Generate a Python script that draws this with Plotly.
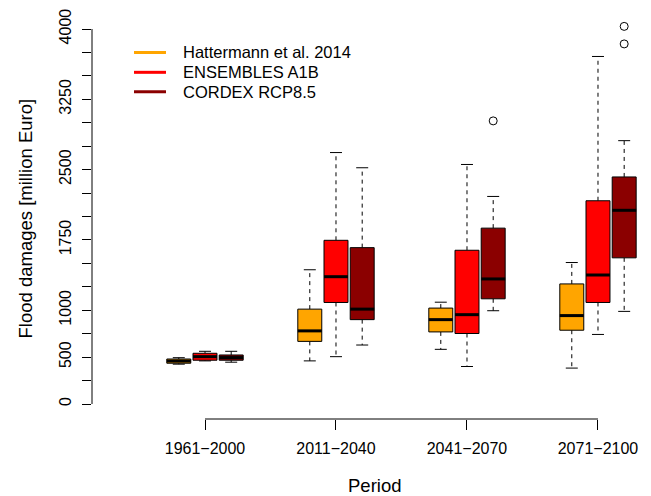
import plotly.graph_objects as go

# ---------------- data ----------------
periods = ["1961−2000", "2011−2040", "2041−2070", "2071−2100"]
series_names = ["Hattermann et al. 2014", "ENSEMBLES A1B", "CORDEX RCP8.5"]
series_colors = ["#FFA500", "#FF0000", "#8B0000"]

hat_low = [425, 460, 583, 383]
hat_q1 = [435, 668, 769, 787]
hat_med = [458, 780, 900, 943]
hat_q3 = [480, 1012, 1023, 1281]
hat_high = [494, 1432, 1086, 1509]

ens_low = [460, 505, 400, 742]
ens_q1 = [467, 1083, 752, 1083]
ens_med = [505, 1358, 953, 1376]
ens_q3 = [541, 1746, 1640, 2168]
ens_high = [562, 2682, 2555, 3707]

cor_low = [446, 629, 995, 988]
cor_q1 = [467, 900, 1122, 1559]
cor_med = [495, 1012, 1334, 2066]
cor_q3 = [523, 1668, 1876, 2422]
cor_high = [562, 2520, 2214, 2809]

cor_out_period = ["2041−2070", "2071−2100", "2071−2100"]
cor_out_values = [3020, 4028, 3841]

y_tick_values = list(range(0, 4001, 250))
y_tick_labelled = [0, 500, 1000, 1750, 2500, 3250, 4000]

# ---------------- figure ----------------
FONT = "Liberation Sans, Arial, Helvetica, sans-serif"
stats = [
    (hat_low, hat_q1, hat_med, hat_q3, hat_high),
    (ens_low, ens_q1, ens_med, ens_q3, ens_high),
    (cor_low, cor_q1, cor_med, cor_q3, cor_high),
]
offsets = [-0.2, 0.0, 0.2]
half_w = 0.0915
cap_w = half_w / 2

fig = go.Figure()

for s, (low, q1, med, q3, high) in enumerate(stats):
    wx, wy, cx, cy, bx, by, mx, my = [], [], [], [], [], [], [], []
    for i in range(len(periods)):
        xc = i + 1 + offsets[s]
        # whiskers
        wx += [xc, xc, None, xc, xc, None]
        wy += [q3[i], high[i], None, q1[i], low[i], None]
        # staples
        cx += [xc - cap_w, xc + cap_w, None, xc - cap_w, xc + cap_w, None]
        cy += [high[i], high[i], None, low[i], low[i], None]
        # box
        bx += [xc - half_w, xc + half_w, xc + half_w, xc - half_w, xc - half_w, None]
        by += [q1[i], q1[i], q3[i], q3[i], q1[i], None]
        # median
        mx += [xc - half_w, xc + half_w, None]
        my += [med[i], med[i], None]
    fig.add_trace(go.Scatter(x=wx, y=wy, mode="lines", showlegend=False, hoverinfo="skip",
                             line=dict(color="black", width=1, dash="4px,4px")))
    fig.add_trace(go.Scatter(x=cx, y=cy, mode="lines", showlegend=False, hoverinfo="skip",
                             line=dict(color="black", width=1)))
    fig.add_trace(go.Scatter(x=bx, y=by, mode="lines", fill="toself",
                             fillcolor=series_colors[s], showlegend=False, hoverinfo="skip",
                             line=dict(color="black", width=1)))
    fig.add_trace(go.Scatter(x=mx, y=my, mode="lines", showlegend=False, hoverinfo="skip",
                             line=dict(color="black", width=3)))

out_x = [periods.index(p) + 1 + offsets[2] for p in cor_out_period]
fig.add_trace(go.Scatter(x=out_x, y=cor_out_values, mode="markers", showlegend=False,
                         marker=dict(symbol="circle-open", size=8, color="black",
                                     line=dict(width=1, color="black"))))

# axis lines (R style: only spanning ticks)
fig.add_shape(type="line", xref="paper", yref="y", x0=0, x1=0,
              y0=y_tick_values[0], y1=y_tick_values[-1], line=dict(color="black", width=1))
fig.add_shape(type="line", xref="x", yref="paper", x0=1, x1=len(periods), y0=0, y1=0,
              line=dict(color="black", width=1))

# legend (drawn manually, R style)
leg_y = [0.905, 0.856, 0.808]
for s in range(3):
    fig.add_shape(type="line", xref="paper", yref="paper", x0=0.0764, x1=0.1345,
                  y0=leg_y[s], y1=leg_y[s], line=dict(color=series_colors[s], width=3))
    fig.add_annotation(xref="paper", yref="paper", x=0.1618, y=leg_y[s], text=series_names[s],
                       showarrow=False, xanchor="left", yanchor="middle",
                       font=dict(family=FONT, size=16.5, color="black"))

# axis titles
fig.add_annotation(xref="paper", yref="paper", x=0.5145, y=-0.163, text="Period",
                   showarrow=False, xanchor="center", yanchor="middle",
                   font=dict(family=FONT, size=18.5, color="black"))
fig.add_annotation(xref="paper", yref="paper", x=-0.1218, y=0.4951,
                   text="Flood damages [million Euro]", textangle=-90,
                   showarrow=False, xanchor="center", yanchor="middle",
                   font=dict(family=FONT, size=18.5, color="black"))

fig.update_layout(
    width=651, height=496, autosize=False,
    margin=dict(l=92, r=9, t=10, b=77),
    paper_bgcolor="white", plot_bgcolor="white",
    font=dict(family=FONT, size=16, color="black"),
    showlegend=False,
    xaxis=dict(range=[0.1374, 4.336], tickmode="array", tickvals=[1, 2, 3, 4],
               ticktext=periods, ticks="outside", ticklen=10, tickcolor="black",
               ticklabelstandoff=5,
               showgrid=False, zeroline=False, showline=False,
               tickfont=dict(family=FONT, size=16, color="black")),
    yaxis=dict(range=[-160, 4160], tickmode="array", tickvals=y_tick_values,
               ticktext=[str(v) if v in y_tick_labelled else "" for v in y_tick_values],
               ticks="outside", ticklen=9, tickcolor="black", tickangle=-90,
               ticklabelstandoff=5,
               showgrid=False, zeroline=False, showline=False,
               tickfont=dict(family=FONT, size=16, color="black")),
)

fig.write_html(
    "out.html",
    config={"displayModeBar": False},
    post_script="document.body.style.margin='0';document.body.style.padding='0';",
)
